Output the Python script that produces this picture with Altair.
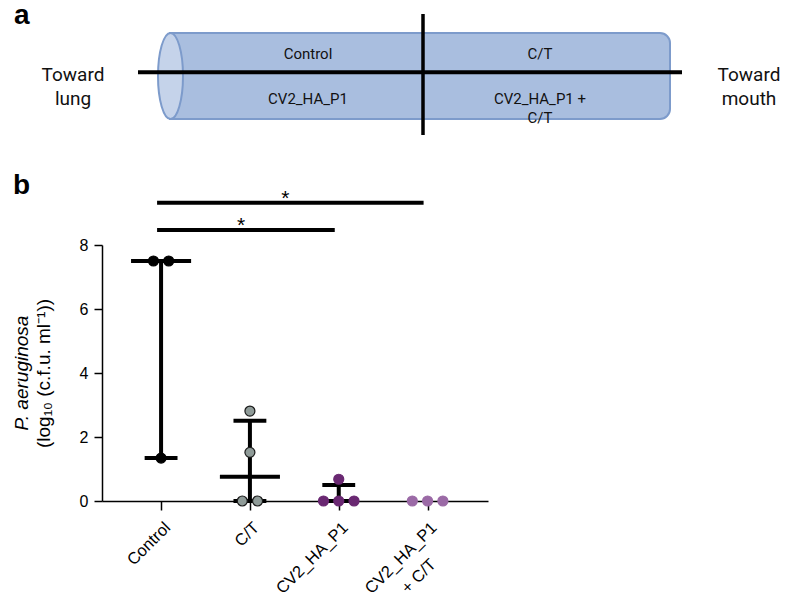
import altair as alt
import pandas as pd
from collections import Counter

# ---------------- panel b data ----------------
groups = ["Control", "C/T", "CV2_HA_P1", "CV2_HA_P1 + C/T"]
axis_labels = ["Control", "C/T", "CV2_HA_P1", "CV2_HA_P1"]
axis_label_extra = "+ C/T"
control_vals = [7.5, 7.5, 1.34]
ct_vals = [2.81, 1.52, 0.0, 0.0]
cv2_vals = [0.68, 0.0, 0.0, 0.0]
cv2ct_vals = [0.0, 0.0, 0.0]
center_vals = [7.5, 0.76, None, None]
lower_vals = [1.34, 0.0, 0.0, None]
upper_vals = [7.5, 2.51, 0.5, None]
sig_left = [1, 1]
sig_right = [3, 4]
sig_level = [8.47, 9.32]
sig_mark = ["*", "*"]
y_ticks = [0, 2, 4, 6, 8]
fill_colors = ["#000000", "#8f9b98", "#6a2872", "#9b6aa6"]
edge_colors = ["#000000", "#1a1a1a", "#6a2872", "#9b6aa6"]
y_title = "(log\u2081\u2080 (c.f.u. ml\u207b\u00b9))"
y_title_italic = "P. aeruginosa"

# ---------------- panel a (schematic, figure units) ----------------
a_labels = ["Control", "C/T", "CV2_HA_P1", "CV2_HA_P1 +\nC/T"]
a_label_x = [308, 540, 308, 540]
a_label_y = [54, 54, 99, 99]
side_labels = ["Toward\nlung", "Toward\nmouth"]
side_x = [73, 749]
side_y = [75, 75]
tube_x = [170, 670]
tube_y = [33, 119]
tube_end = [170.5, 76]
h_line_x = [138, 682]
h_line_y = 72.3
v_line_x = 423
v_line_y = [14, 135]
tags = ["a", "b"]
tag_x = [14, 13]
tag_y = [23.5, 194]

FONT = "Liberation Sans"
AFONT = "Roboto"

# plot-area geometry of panel b inside the figure
PX0, PY0, PW, PH = 102, 245, 386, 256
FIG_W, FIG_H = 792, 612

# ================= panel a layers =================
sx = alt.Scale(domain=[0, FIG_W], range=[-PX0, FIG_W - PX0], nice=False, zero=False)
sy = alt.Scale(domain=[0, FIG_H], range=[-PY0, FIG_H - PY0], nice=False, zero=False)

tube_df = pd.DataFrame({"x0": [tube_x[0]], "x1": [tube_x[1]], "y0": [tube_y[0]], "y1": [tube_y[1]]})
tube = alt.Chart(tube_df).mark_rect(
    fill="#a9bedf", stroke="#7d9bcb", strokeWidth=2,
    cornerRadiusTopRight=10, cornerRadiusBottomRight=10
).encode(
    x=alt.X("x0:Q", scale=sx, axis=None), x2="x1:Q",
    y=alt.Y("y0:Q", scale=sy, axis=None), y2="y1:Q",
)

ry = (tube_y[1] - tube_y[0]) / 2
rx = 12.5 / ry
k = 0.5523
kx = k * rx
ellipse_path = (
    f"M0,-1 C{kx:.4f},-1 {rx:.4f},-{k} {rx:.4f},0 "
    f"C{rx:.4f},{k} {kx:.4f},1 0,1 "
    f"C-{kx:.4f},1 -{rx:.4f},{k} -{rx:.4f},0 "
    f"C-{rx:.4f},-{k} -{kx:.4f},-1 0,-1 Z"
)
end_df = pd.DataFrame({"x": [tube_end[0]], "y": [tube_end[1]]})
end = alt.Chart(end_df).mark_point(
    shape=ellipse_path, size=(2 * ry) ** 2, filled=True, fill="#c5d3ea",
    stroke="#7d9bcb", strokeWidth=2, opacity=1,
).encode(
    x=alt.X("x:Q", scale=sx, axis=None), y=alt.Y("y:Q", scale=sy, axis=None)
)

hl_df = pd.DataFrame({"x0": [h_line_x[0]], "x1": [h_line_x[1]], "y": [h_line_y]})
hline = alt.Chart(hl_df).mark_rule(color="black", strokeWidth=4).encode(
    x=alt.X("x0:Q", scale=sx, axis=None), x2="x1:Q",
    y=alt.Y("y:Q", scale=sy, axis=None),
)
vl_df = pd.DataFrame({"x": [v_line_x], "y0": [v_line_y[0]], "y1": [v_line_y[1]]})
vline = alt.Chart(vl_df).mark_rule(color="black", strokeWidth=3.5).encode(
    x=alt.X("x:Q", scale=sx, axis=None),
    y=alt.Y("y0:Q", scale=sy, axis=None), y2="y1:Q",
)

lab_df = pd.DataFrame({"t": a_labels, "x": a_label_x, "y": a_label_y})
labs = alt.Chart(lab_df).mark_text(
    font=AFONT, fontSize=15, color="#111111", align="center", baseline="middle",
    lineBreak="\n", lineHeight=19,
).encode(
    x=alt.X("x:Q", scale=sx, axis=None), y=alt.Y("y:Q", scale=sy, axis=None), text="t:N"
)
side_df = pd.DataFrame({"t": side_labels, "x": side_x, "y": side_y})
sides = alt.Chart(side_df).mark_text(
    font=AFONT, fontSize=19, color="#111111", align="center", baseline="middle",
    lineBreak="\n", lineHeight=24,
).encode(
    x=alt.X("x:Q", scale=sx, axis=None), y=alt.Y("y:Q", scale=sy, axis=None), text="t:N"
)
tag_df = pd.DataFrame({"t": tags, "x": tag_x, "y": tag_y})
tag_marks = alt.Chart(tag_df).mark_text(
    font=FONT, fontSize=28, fontWeight="bold", color="black", align="left", baseline="alphabetic"
).encode(
    x=alt.X("x:Q", scale=sx, axis=None), y=alt.Y("y:Q", scale=sy, axis=None), text="t:N"
)

panel_a = alt.layer(tube, end, hline, vline, labs, sides, tag_marks)

# ================= panel b layers =================
STEP = 0.172
rows = []
for gi, vals in enumerate([control_vals, ct_vals, cv2_vals, cv2ct_vals], start=1):
    cnt = Counter(vals)
    seen = Counter()
    for v in vals:
        n = cnt[v]
        kk = seen[v]
        seen[v] += 1
        rows.append({"group": groups[gi - 1], "gx": gi + (kk - (n - 1) / 2) * STEP, "value": v})
pts_df = pd.DataFrame(rows)

summ_df = pd.DataFrame({"gi": [1, 2, 3, 4], "center": center_vals, "lower": lower_vals, "upper": upper_vals})
cen_df = summ_df.dropna(subset=["center"])
wh_df = summ_df.dropna(subset=["lower", "upper"])
cap_df = pd.concat([
    wh_df[["gi", "lower"]].rename(columns={"lower": "v"}),
    wh_df[["gi", "upper"]].rename(columns={"upper": "v"}),
])
sig_df = pd.DataFrame({"a": sig_left, "b": sig_right, "y": sig_level, "t": sig_mark})

xscale = alt.Scale(domain=[0.335, 4.68], nice=False, zero=False)
yscale = alt.Scale(domain=[0, 8], nice=False, zero=False)
label_expr = "[" + ",".join("'" + s + "'" for s in axis_labels) + "][round(datum.value) - 1]"
xaxis = alt.Axis(
    values=[1, 2, 3, 4], labelExpr=label_expr, labelAngle=315, labelAlign="right",
    labelBaseline="top", labelOffset=0.5, labelPadding=9, labelFontSize=16.5,
    labelFont=FONT, labelColor="black", tickSize=9, tickWidth=1.5, tickColor="black",
    domainColor="black", domainWidth=1.5, grid=False, title="",
    labelOverlap=False, labelFlush=False,
)
yaxis = alt.Axis(
    values=y_ticks, format="d", labelFontSize=16, labelFont=FONT, labelColor="black",
    labelPadding=6, tickSize=8, tickWidth=1.5, tickColor="black",
    domainColor="black", domainWidth=1.5, grid=False,
    title=y_title, titleFont=FONT, titleFontSize=19, titleFontWeight="normal",
    titleColor="black", titleAngle=270, titleX=-59, titleY=PH / 2,
    titleAlign="center", titleBaseline="middle",
)

whisk = alt.Chart(wh_df).mark_rule(color="black", strokeWidth=4).encode(
    x=alt.X("gi:Q", scale=xscale, axis=xaxis),
    y=alt.Y("lower:Q", scale=yscale, axis=yaxis), y2="upper:Q",
)
cen = alt.Chart(cen_df).transform_calculate(
    xl="datum.gi - 0.338", xr="datum.gi + 0.338"
).mark_rule(color="black", strokeWidth=4).encode(
    x=alt.X("xl:Q", scale=xscale, axis=xaxis), x2="xr:Q",
    y=alt.Y("center:Q", scale=yscale, axis=yaxis),
)
caps = alt.Chart(cap_df).transform_calculate(
    xl="datum.gi - 0.185", xr="datum.gi + 0.185"
).mark_rule(color="black", strokeWidth=4).encode(
    x=alt.X("xl:Q", scale=xscale, axis=xaxis), x2="xr:Q",
    y=alt.Y("v:Q", scale=yscale, axis=yaxis),
)
pts = alt.Chart(pts_df).mark_circle(size=100, opacity=1, strokeWidth=1.2).encode(
    x=alt.X("gx:Q", scale=xscale, axis=xaxis),
    y=alt.Y("value:Q", scale=yscale, axis=yaxis),
    fill=alt.Fill("group:N", scale=alt.Scale(domain=groups, range=fill_colors), legend=None),
    stroke=alt.Stroke("group:N", scale=alt.Scale(domain=groups, range=edge_colors), legend=None),
)
sig = alt.Chart(sig_df).transform_calculate(
    xa="datum.a - 0.045", xb="datum.b - 0.045"
).mark_rule(color="black", strokeWidth=4).encode(
    x=alt.X("xa:Q", scale=xscale, axis=xaxis), x2="xb:Q",
    y=alt.Y("y:Q", scale=yscale, axis=yaxis),
)
stars = alt.Chart(sig_df).transform_calculate(
    xm="(datum.a + datum.b) / 2 - 0.1"
).mark_text(font=FONT, fontSize=21, color="black", align="center", baseline="alphabetic", dy=2).encode(
    x=alt.X("xm:Q", scale=xscale, axis=xaxis),
    y=alt.Y("y:Q", scale=yscale, axis=yaxis),
    text="t:N",
)
extra = alt.Chart(pd.DataFrame({"t": [axis_label_extra], "g": [4], "v": [0]})).mark_text(
    font=FONT, fontSize=16.5, color="black", angle=315, align="right", baseline="top", dx=-39, dy=39
).encode(
    x=alt.X("g:Q", scale=xscale, axis=xaxis),
    y=alt.Y("v:Q", scale=yscale, axis=yaxis),
    text="t:N",
)
ital = alt.Chart(pd.DataFrame({"t": [y_title_italic], "v": [4]})).mark_text(
    font=FONT, fontSize=19, fontStyle="italic", color="black", angle=270,
    align="center", baseline="middle"
).encode(
    x=alt.value(-80),
    y=alt.Y("v:Q", scale=yscale, axis=yaxis),
    text="t:N",
)

panel_b = alt.layer(whisk, cen, caps, pts, sig, stars, extra, ital)

chart = alt.layer(panel_a, panel_b).resolve_scale(
    x="independent", y="independent"
).properties(
    width=PW, height=PH,
    padding={"left": 5, "top": -7, "right": 0, "bottom": 0},
).configure_view(stroke=None)

chart.save("out.html", embed_options={"renderer": "svg", "actions": False})
